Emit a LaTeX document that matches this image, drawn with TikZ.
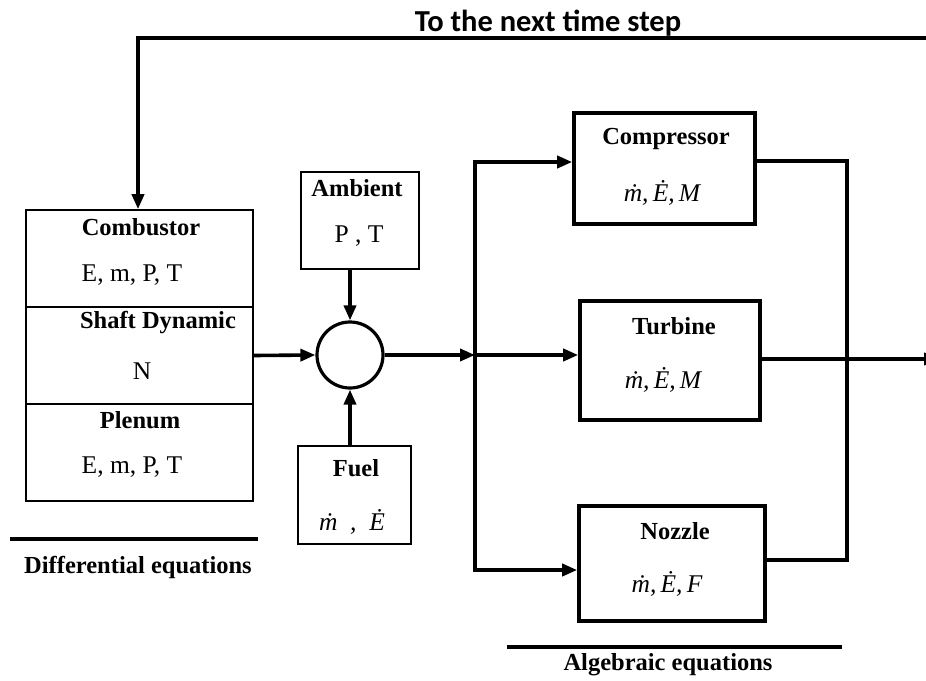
\documentclass[tikz,border=0pt]{standalone}
\usepackage{fontspec}
\setmainfont{Liberation Serif}
\newfontfamily\titlefont{Carlito}
\usetikzlibrary{arrows.meta}
\begin{document}
\begin{tikzpicture}[x=1pt,y=-1pt,
  thinbox/.style={draw,line width=1.6pt,inner sep=0pt},
  thickbox/.style={draw,line width=3.6pt,inner sep=0pt},
  lbl/.style={font=\fontsize{24.5}{27}\selectfont\bfseries,inner sep=0pt},
  val/.style={font=\fontsize{25.5}{28}\selectfont,inner sep=0pt},
  mval/.style={font=\fontsize{25.5}{28}\selectfont\itshape,inner sep=0pt},
  wire/.style={line width=3.6pt},
  arr/.style={line width=3.6pt,-{Triangle[length=15pt,width=12pt]}},
  uline/.style={line width=4pt}]
\useasboundingbox (0,0) rectangle (926,680);
\fill[white] (0,0) rectangle (926,680);

% title and feedback
\node[font=\titlefont\fontsize{30.5}{33}\selectfont\bfseries,inner sep=0pt] (title) at (548,23) {To the next time step};
\coordinate (fbR) at (930,38);
\coordinate (fbL) at (138,38);

% left stacked boxes
\node[thinbox,minimum width=227pt,minimum height=97pt] (comb) at (139.5,258.5) {};
\node[thinbox,minimum width=227pt,minimum height=97pt] (shaft) at (139.5,355.5) {};
\node[thinbox,minimum width=227pt,minimum height=97pt] (plen) at (139.5,452.5) {};
\node[lbl] (combT) at (141,227) {Combustor};
\node[val] (combV) at (132,275) {E, m, P, T};
\node[lbl] (shaftT) at (158,323) {Shaft Dynamic};
\node[val] (shaftV) at (142,371) {N};
\node[lbl] (plenT) at (140,420) {Plenum};
\node[val] (plenV) at (132,467) {E, m, P, T};

\draw[arr] (fbR) -- (fbL) -- (fbL |- comb.north);

% ambient, fuel, summing junction
\node[thinbox,minimum width=118pt,minimum height=97pt] (amb) at (360,220.5) {};
\node[lbl] (ambT) at (357,188) {Ambient};
\node[val] (ambV) at (359,236) {P , T};
\node[thinbox,minimum width=113pt,minimum height=98pt] (fuel) at (354.5,495) {};
\node[lbl] (fuelT) at (356,468) {Fuel};
\node[mval] (fuelV) at (352,522) {\.m\ \ ,\ \ \.E};
\node[circle,draw,line width=3.2pt,minimum size=66pt,inner sep=0pt] (sum) at (350,355) {};

\draw[arr] (shaft.east) -- (sum.west);
\draw[arr] (sum.north |- amb.south) -- (sum.north);
\draw[arr] (sum.south |- fuel.north) -- (sum.south);

% algebraic blocks
\node[thickbox,minimum width=181pt,minimum height=111pt] (comp) at (664.5,168.5) {};
\node[lbl] (compT) at (666,139) {Compressor};
\node[mval] (compV) at (662,193) {\.m,\,\.E,\,M};
\node[thickbox,minimum width=180pt,minimum height=119pt] (turb) at (670,360.5) {};
\node[lbl] (turbT) at (674,326) {Turbine};
\node[mval] (turbV) at (663,380) {\.m,\,\.E,\,M};
\node[thickbox,minimum width=186pt,minimum height=115pt] (noz) at (672,563.5) {};
\node[lbl] (nozT) at (675,531) {Nozzle};
\node[mval] (nozV) at (667,584) {\.m,\,\.E,\,F};

% splitter bus
\coordinate (split) at (475,355);
\coordinate (busT) at (475,162);
\coordinate (busB) at (475,570);
\draw[arr] (sum.east) -- (split);
\draw[arr] (split) -- (busT) -- (comp.west |- busT);
\draw[arr] (split) -- (busB) -- (noz.west |- busB);
\draw[arr] (split) -- (turb.west |- split);

% collector
\coordinate (colT) at (847,161);
\coordinate (colB) at (847,560);
\draw[wire] (comp.east |- colT) -- (colT) -- (colB) -- (noz.east |- colB);
\coordinate (outR) at (939,359);
\draw[arr] (turb.east |- outR) -- (outR);

% underlines and captions
\draw[uline] (10,539) -- (258,539);
\node[lbl] (diffT) at (138,567) {Differential equations};
\draw[uline] (507,647) -- (842,647);
\node[lbl] (algT) at (668,665) {Algebraic equations};
\end{tikzpicture}
\end{document}
